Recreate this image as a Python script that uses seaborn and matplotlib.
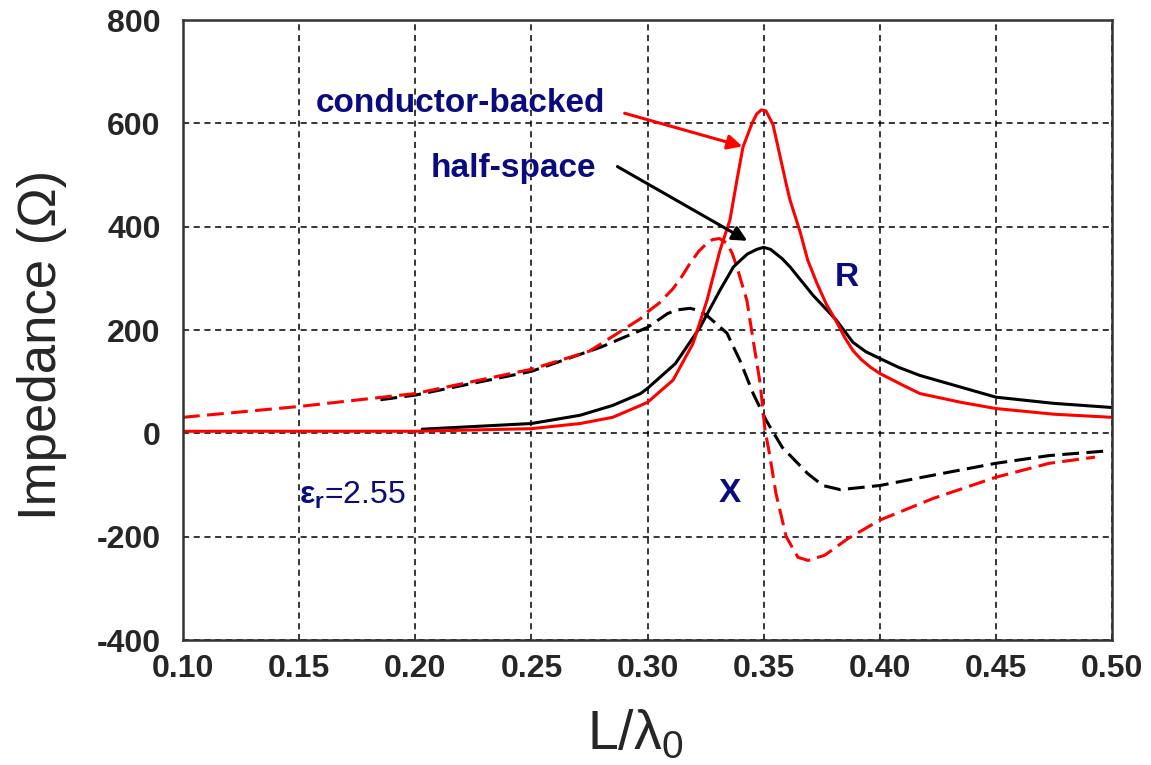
import matplotlib
matplotlib.use("Agg")
import matplotlib.pyplot as plt
import seaborn as sns
import pandas as pd
from matplotlib.ticker import MultipleLocator

# ---- data ----
x_r_cb = [0.10, 0.15, 0.20, 0.25, 0.271, 0.285, 0.297, 0.30, 0.311, 0.3196, 0.3256, 0.3312,
          0.3355, 0.3385, 0.3411, 0.345, 0.347, 0.349, 0.351, 0.354, 0.3558, 0.360, 0.3614,
          0.3657, 0.369, 0.373, 0.377, 0.381, 0.385, 0.3885, 0.392, 0.396, 0.40, 0.41,
          0.4173, 0.435, 0.45, 0.475, 0.50]
r_cb = [4, 4, 4, 9, 19, 31, 54, 60, 103, 174, 257, 354,
        413, 490, 554, 600, 618, 626, 624, 598, 562, 477, 451,
        390, 335, 290, 250, 219, 185, 160, 143, 128, 116, 93,
        77, 60, 48, 37, 31]

x_r_hs = [0.203, 0.25, 0.271, 0.285, 0.297, 0.30, 0.312, 0.3226, 0.3312, 0.337, 0.3398,
          0.343, 0.347, 0.35, 0.353, 0.358, 0.3614, 0.3713, 0.3753, 0.3813, 0.3885, 0.394,
          0.40, 0.408, 0.4173, 0.45, 0.475, 0.50]
r_hs = [8, 19, 35, 54, 77, 87, 135, 205, 277, 322, 334,
        347, 356, 360, 356, 338, 322, 267, 248, 219, 176, 158,
        145, 128, 112, 70, 58, 50]

x_x_cb = [0.10, 0.15, 0.20, 0.25, 0.275, 0.297, 0.30, 0.305, 0.311, 0.315, 0.3183, 0.322,
          0.3256, 0.328, 0.331, 0.3342, 0.3365, 0.3385, 0.3428, 0.3455, 0.3485, 0.3506,
          0.3525, 0.3553, 0.3597, 0.3648, 0.3691, 0.3763, 0.3862, 0.40, 0.423, 0.45,
          0.473, 0.4927]
x_cb = [31, 52, 77, 124, 159, 222, 235, 252, 280, 305, 329, 352,
        368, 375, 377, 368, 348, 322, 257, 180, 97, 6,
        -39, -116, -200, -240, -246, -236, -204, -168, -126, -85,
        -58, -46]

x_x_hs = [0.185, 0.20, 0.25, 0.28, 0.30, 0.3087, 0.313, 0.3183, 0.322, 0.3256, 0.3342,
          0.3398, 0.3455, 0.3511, 0.358, 0.369, 0.3755, 0.383, 0.40, 0.423, 0.45, 0.473,
          0.498]
x_hs = [65, 74, 120, 167, 205, 232, 239, 242, 238, 228, 194,
        141, 77, 25, -27, -78, -101, -109, -101, -81, -58, -43,
        -34]

xticks = [0.10, 0.15, 0.20, 0.25, 0.30, 0.35, 0.40, 0.45, 0.50]
yticks = [-400, -200, 0, 200, 400, 600, 800]

# ---- style ----
sns.set_theme(style="white")
plt.rcParams['font.family'] = ['Liberation Sans', 'DejaVu Sans']
plt.rcParams['mathtext.fontset'] = 'custom'
plt.rcParams['mathtext.rm'] = 'Liberation Sans'
plt.rcParams['mathtext.bf'] = 'Liberation Sans:bold'

navy = '#0b0b80'

fig, ax = plt.subplots(figsize=(11.51, 7.65), dpi=100)
fig.subplots_adjust(left=183/1151, right=1112/1151, top=1-20/765, bottom=1-640/765)

def draw(x, y, color, ls):
    df = pd.DataFrame({'x': x, 'y': y})
    sns.lineplot(data=df, x='x', y='y', ax=ax, color=color, linewidth=2.2,
                 linestyle=ls, sort=False, estimator=None)

draw(x_x_hs, x_hs, 'black', (0, (5.5, 2.4)))
draw(x_x_cb, x_cb, '#ff0000', (0, (5.5, 2.4)))
draw(x_r_hs, r_hs, 'black', '-')
draw(x_r_cb, r_cb, '#ff0000', '-')

ax.set_xlim(0.10, 0.50)
ax.set_ylim(-400, 800)
ax.set_xticks(xticks)
ax.set_yticks(yticks)
ax.set_xticklabels([f"{v:.2f}" for v in xticks], fontsize=23, fontweight='bold')
ax.set_yticklabels([str(v) for v in yticks], fontsize=23, fontweight='bold')
ax.xaxis.set_minor_locator(MultipleLocator(0.025))
ax.yaxis.set_minor_locator(MultipleLocator(50))
ax.tick_params(which='both', direction='in', top=False, right=False, color='black')
ax.tick_params(which='major', length=0, pad=10)
ax.tick_params(which='minor', length=8, width=1.2)
ax.tick_params(axis='y', which='major', pad=16)
ax.grid(True, which='major', color='black', linestyle=(0, (4, 3)), linewidth=1.1)
for s in ax.spines.values():
    s.set_color('#333333')
    s.set_linewidth(1.8)

ax.set_xlabel('L/λ$_\\mathregular{0}$', fontsize=40)
ax.set_ylabel('Impedance (Ω)', fontsize=38)
ax.xaxis.set_label_coords(0.487, -0.11)
ax.yaxis.set_label_coords(-0.152, 0.476)
ax.yaxis.label.set_va('center')
ax.xaxis.label.set_va('top')

# annotations
ax.annotate('', xy=(0.342, 554), xytext=(0.289, 621),
            arrowprops=dict(arrowstyle='-|>', color='#ff0000', lw=2.2, mutation_scale=22))
ax.annotate('', xy=(0.344, 370), xytext=(0.286, 519),
            arrowprops=dict(arrowstyle='-|>', color='black', lw=2.2, mutation_scale=22))
ax.text(0.2817, 639, 'conductor-backed', ha='right', va='center', color=navy,
        fontsize=24, fontweight='bold')
ax.text(0.278, 512, 'half-space', ha='right', va='center', color=navy,
        fontsize=24, fontweight='bold')
ax.text(0.386, 302, 'R', ha='center', va='center', color=navy, fontsize=24, fontweight='bold')
ax.text(0.3355, -116, 'X', ha='center', va='center', color=navy, fontsize=24, fontweight='bold')
ax.text(0.150, -120, '$\\mathbf{ε_r}$=2.55', ha='left', va='center', color=navy, fontsize=23)

fig.savefig('out.png', dpi=100)
